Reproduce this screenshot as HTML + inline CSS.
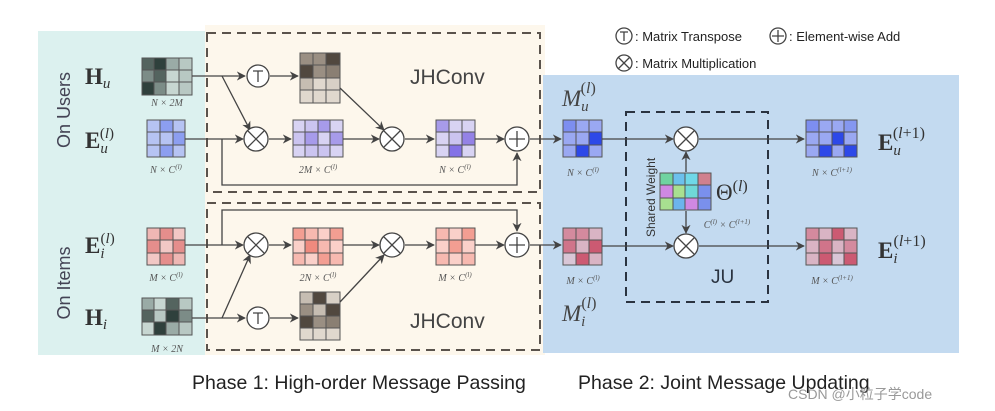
<!DOCTYPE html>
<html><head><meta charset="utf-8"><style>
body{margin:0;background:#fff;}
svg{display:block;font-family:"Liberation Sans",sans-serif;}
.m{font-family:"Liberation Serif",serif;}
</style></head><body>
<svg width="995" height="411" viewBox="0 0 995 411" xmlns="http://www.w3.org/2000/svg">
<defs>
<marker id="a" viewBox="0 0 10 10" refX="9" refY="5" markerWidth="7" markerHeight="7" orient="auto"><path d="M0,0 L10,5 L0,10 L3,5z" fill="#444"/></marker>
</defs>
<rect x="38" y="31" width="168" height="324" fill="#dcf1ef"/>
<rect x="205" y="25" width="340" height="330" fill="#fdf7ec"/>
<rect x="543" y="75" width="416" height="278" fill="#c3daf0"/>
<rect x="207" y="33" width="333" height="159" fill="none" stroke="#5a534c" stroke-width="2" stroke-dasharray="9,6"/>
<rect x="207" y="203" width="333" height="147" fill="none" stroke="#5a534c" stroke-width="2" stroke-dasharray="9,6"/>
<rect x="626" y="112" width="142" height="190" fill="none" stroke="#2a3340" stroke-width="2" stroke-dasharray="9,6"/>

<text x="70" y="110" transform="rotate(-90 70 110)" text-anchor="middle" font-size="18" fill="#445">On Users</text>
<text x="70" y="283" transform="rotate(-90 70 283)" text-anchor="middle" font-size="18" fill="#445">On Items</text>
<text class="m" x="85" y="84" font-size="23" font-weight="bold" fill="#333">H<tspan font-size="15" font-style="italic" font-weight="normal" dy="4">u</tspan></text>
<text class="m" x="85" y="148" font-size="23" font-weight="bold" fill="#333">E<tspan font-size="15" font-style="italic" font-weight="normal" dy="5">u</tspan><tspan font-size="15" font-weight="normal" dx="-8" dy="-15">(<tspan font-style="italic">l</tspan>)</tspan></text>
<text class="m" x="85" y="253" font-size="23" font-weight="bold" fill="#333">E<tspan font-size="15" font-style="italic" font-weight="normal" dy="5">i</tspan><tspan font-size="15" font-weight="normal" dx="-4" dy="-15">(<tspan font-style="italic">l</tspan>)</tspan></text>
<text class="m" x="85" y="325" font-size="23" font-weight="bold" fill="#333">H<tspan font-size="15" font-style="italic" font-weight="normal" dy="4">i</tspan></text>

<g stroke="#555" stroke-width="1">
<rect x="142" y="58" width="12" height="12" fill="#54645f"/><rect x="154" y="58" width="12" height="12" fill="#2f403c"/><rect x="166" y="58" width="13" height="12" fill="#9aaba6"/><rect x="179" y="58" width="13" height="12" fill="#b8c8c3"/>
<rect x="142" y="70" width="12" height="12" fill="#7c8c87"/><rect x="154" y="70" width="12" height="12" fill="#54645f"/><rect x="166" y="70" width="13" height="12" fill="#c7d6d1"/><rect x="179" y="70" width="13" height="12" fill="#b8c8c3"/>
<rect x="142" y="82" width="12" height="13" fill="#2f403c"/><rect x="154" y="82" width="12" height="13" fill="#7c8c87"/><rect x="166" y="82" width="13" height="13" fill="#c7d6d1"/><rect x="179" y="82" width="13" height="13" fill="#b8c8c3"/>
<rect x="142" y="298" width="12" height="12" fill="#9aaba6"/><rect x="154" y="298" width="12" height="12" fill="#c7d6d1"/><rect x="166" y="298" width="13" height="12" fill="#54645f"/><rect x="179" y="298" width="13" height="12" fill="#b8c8c3"/>
<rect x="142" y="310" width="12" height="12" fill="#54645f"/><rect x="154" y="310" width="12" height="12" fill="#b8c8c3"/><rect x="166" y="310" width="13" height="12" fill="#2f403c"/><rect x="179" y="310" width="13" height="12" fill="#7c8c87"/>
<rect x="142" y="322" width="12" height="13" fill="#c7d6d1"/><rect x="154" y="322" width="12" height="13" fill="#2f403c"/><rect x="166" y="322" width="13" height="13" fill="#9aaba6"/><rect x="179" y="322" width="13" height="13" fill="#b8c8c3"/>
<rect x="300" y="53" width="13" height="12" fill="#9a8f83"/><rect x="313" y="53" width="13" height="12" fill="#9a8f83"/><rect x="326" y="53" width="14" height="12" fill="#51483f"/>
<rect x="300" y="65" width="13" height="13" fill="#51483f"/><rect x="313" y="65" width="13" height="13" fill="#9a8f83"/><rect x="326" y="65" width="14" height="13" fill="#8a7f73"/>
<rect x="300" y="78" width="13" height="12" fill="#c6bdb2"/><rect x="313" y="78" width="13" height="12" fill="#e0d8ce"/><rect x="326" y="78" width="14" height="12" fill="#d8d0c6"/>
<rect x="300" y="90" width="13" height="13" fill="#e0d8ce"/><rect x="313" y="90" width="13" height="13" fill="#e0d8ce"/><rect x="326" y="90" width="14" height="13" fill="#e0d8ce"/>
<rect x="300" y="292" width="13" height="12" fill="#c6bdb2"/><rect x="313" y="292" width="13" height="12" fill="#51483f"/><rect x="326" y="292" width="14" height="12" fill="#d8d0c6"/>
<rect x="300" y="304" width="13" height="12" fill="#9a8f83"/><rect x="313" y="304" width="13" height="12" fill="#c6bdb2"/><rect x="326" y="304" width="14" height="12" fill="#51483f"/>
<rect x="300" y="316" width="13" height="12" fill="#51483f"/><rect x="313" y="316" width="13" height="12" fill="#9a8f83"/><rect x="326" y="316" width="14" height="12" fill="#8a7f73"/>
<rect x="300" y="328" width="13" height="12" fill="#e0d8ce"/><rect x="313" y="328" width="13" height="12" fill="#e0d8ce"/><rect x="326" y="328" width="14" height="12" fill="#e0d8ce"/>
</g>

<g stroke="#555" stroke-width="1">
<rect x="147" y="120" width="13" height="12" fill="#b6c3f3"/><rect x="160" y="120" width="13" height="12" fill="#8c9ef0"/><rect x="173" y="120" width="12" height="12" fill="#b6c3f3"/>
<rect x="147" y="132" width="13" height="13" fill="#b6c3f3"/><rect x="160" y="132" width="13" height="13" fill="#b6c3f3"/><rect x="173" y="132" width="12" height="13" fill="#8c9ef0"/>
<rect x="147" y="145" width="13" height="12" fill="#b6c3f3"/><rect x="160" y="145" width="13" height="12" fill="#8c9ef0"/><rect x="173" y="145" width="12" height="12" fill="#b6c3f3"/>
<rect x="293" y="120" width="12" height="12" fill="#d8d3f3"/><rect x="305" y="120" width="13" height="12" fill="#cbc4f0"/><rect x="318" y="120" width="12" height="12" fill="#a79bea"/><rect x="330" y="120" width="13" height="12" fill="#d8d3f3"/>
<rect x="293" y="132" width="12" height="13" fill="#cbc4f0"/><rect x="305" y="132" width="13" height="13" fill="#a79bea"/><rect x="318" y="132" width="12" height="13" fill="#d8d3f3"/><rect x="330" y="132" width="13" height="13" fill="#a79bea"/>
<rect x="293" y="145" width="12" height="12" fill="#d8d3f3"/><rect x="305" y="145" width="13" height="12" fill="#cbc4f0"/><rect x="318" y="145" width="12" height="12" fill="#cbc4f0"/><rect x="330" y="145" width="13" height="12" fill="#d8d3f3"/>
<rect x="436" y="120" width="13" height="12" fill="#a79bea"/><rect x="449" y="120" width="13" height="12" fill="#d8d3f3"/><rect x="462" y="120" width="13" height="12" fill="#d8d3f3"/>
<rect x="436" y="132" width="13" height="13" fill="#d8d3f3"/><rect x="449" y="132" width="13" height="13" fill="#cbc4f0"/><rect x="462" y="132" width="13" height="13" fill="#9482e6"/>
<rect x="436" y="145" width="13" height="12" fill="#d8d3f3"/><rect x="449" y="145" width="13" height="12" fill="#8472e6"/><rect x="462" y="145" width="13" height="12" fill="#d8d3f3"/>
<rect x="147" y="228" width="13" height="12" fill="#efb7b4"/><rect x="160" y="228" width="13" height="12" fill="#e58e8c"/><rect x="173" y="228" width="12" height="12" fill="#f2c8c5"/>
<rect x="147" y="240" width="13" height="13" fill="#e58e8c"/><rect x="160" y="240" width="13" height="13" fill="#f2c8c5"/><rect x="173" y="240" width="12" height="13" fill="#e58e8c"/>
<rect x="147" y="253" width="13" height="12" fill="#f2c8c5"/><rect x="160" y="253" width="13" height="12" fill="#e58e8c"/><rect x="173" y="253" width="12" height="12" fill="#efb7b4"/>
<rect x="293" y="228" width="12" height="12" fill="#f39e92"/><rect x="305" y="228" width="13" height="12" fill="#f7b9b0"/><rect x="318" y="228" width="12" height="12" fill="#fad0c9"/><rect x="330" y="228" width="13" height="12" fill="#f39e92"/>
<rect x="293" y="240" width="12" height="13" fill="#fad0c9"/><rect x="305" y="240" width="13" height="13" fill="#f08a7e"/><rect x="318" y="240" width="12" height="13" fill="#f7b9b0"/><rect x="330" y="240" width="13" height="13" fill="#fad0c9"/>
<rect x="293" y="253" width="12" height="12" fill="#f7b9b0"/><rect x="305" y="253" width="13" height="12" fill="#fad0c9"/><rect x="318" y="253" width="12" height="12" fill="#f39e92"/><rect x="330" y="253" width="13" height="12" fill="#f7b9b0"/>
<rect x="436" y="228" width="13" height="12" fill="#f7b9b0"/><rect x="449" y="228" width="13" height="12" fill="#fad0c9"/><rect x="462" y="228" width="13" height="12" fill="#f39e92"/>
<rect x="436" y="240" width="13" height="13" fill="#fad0c9"/><rect x="449" y="240" width="13" height="13" fill="#f39e92"/><rect x="462" y="240" width="13" height="13" fill="#fad0c9"/>
<rect x="436" y="253" width="13" height="12" fill="#f7b9b0"/><rect x="449" y="253" width="13" height="12" fill="#fad0c9"/><rect x="462" y="253" width="13" height="12" fill="#f7b9b0"/>
<rect x="563" y="120" width="13" height="12" fill="#7d8ef0"/><rect x="576" y="120" width="13" height="12" fill="#9aa8f2"/><rect x="589" y="120" width="13" height="12" fill="#9aa8f2"/>
<rect x="563" y="132" width="13" height="13" fill="#9aa8f2"/><rect x="576" y="132" width="13" height="13" fill="#9aa8f2"/><rect x="589" y="132" width="13" height="13" fill="#2d48e8"/>
<rect x="563" y="145" width="13" height="12" fill="#9aa8f2"/><rect x="576" y="145" width="13" height="12" fill="#2d48e8"/><rect x="589" y="145" width="13" height="12" fill="#9aa8f2"/>
<rect x="563" y="228" width="13" height="12" fill="#d48a9e"/><rect x="576" y="228" width="13" height="12" fill="#d48a9e"/><rect x="589" y="228" width="13" height="12" fill="#d9b4c4"/>
<rect x="563" y="240" width="13" height="13" fill="#d0748a"/><rect x="576" y="240" width="13" height="13" fill="#d9b4c4"/><rect x="589" y="240" width="13" height="13" fill="#cc5a72"/>
<rect x="563" y="253" width="13" height="12" fill="#d9c6d6"/><rect x="576" y="253" width="13" height="12" fill="#cc5a72"/><rect x="589" y="253" width="13" height="12" fill="#d9b4c4"/>
<rect x="806" y="120" width="13" height="12" fill="#7d8ef0"/><rect x="819" y="120" width="13" height="12" fill="#9aa8f2"/><rect x="832" y="120" width="12" height="12" fill="#9aa8f2"/><rect x="844" y="120" width="13" height="12" fill="#8597f0"/>
<rect x="806" y="132" width="13" height="13" fill="#9aa8f2"/><rect x="819" y="132" width="13" height="13" fill="#9aa8f2"/><rect x="832" y="132" width="12" height="13" fill="#2d48e8"/><rect x="844" y="132" width="13" height="13" fill="#9aa8f2"/>
<rect x="806" y="145" width="13" height="12" fill="#9aa8f2"/><rect x="819" y="145" width="13" height="12" fill="#2d48e8"/><rect x="832" y="145" width="12" height="12" fill="#9aa8f2"/><rect x="844" y="145" width="13" height="12" fill="#2d48e8"/>
<rect x="806" y="228" width="13" height="12" fill="#d48a9e"/><rect x="819" y="228" width="13" height="12" fill="#d9b4c4"/><rect x="832" y="228" width="12" height="12" fill="#cc5a72"/><rect x="844" y="228" width="13" height="12" fill="#d9b4c4"/>
<rect x="806" y="240" width="13" height="13" fill="#d9b4c4"/><rect x="819" y="240" width="13" height="13" fill="#d0748a"/><rect x="832" y="240" width="12" height="13" fill="#d9b4c4"/><rect x="844" y="240" width="13" height="13" fill="#d48a9e"/>
<rect x="806" y="253" width="13" height="12" fill="#d9b4c4"/><rect x="819" y="253" width="13" height="12" fill="#cc5a72"/><rect x="832" y="253" width="12" height="12" fill="#d9c6d6"/><rect x="844" y="253" width="13" height="12" fill="#cc5a72"/>
<rect x="660" y="173" width="13" height="12" fill="#6fd3a0"/><rect x="673" y="173" width="12" height="12" fill="#6cc0ec"/><rect x="685" y="173" width="13" height="12" fill="#6fd8e8"/><rect x="698" y="173" width="13" height="12" fill="#d0808e"/>
<rect x="660" y="185" width="13" height="13" fill="#cf88e2"/><rect x="673" y="185" width="12" height="13" fill="#a8e090"/><rect x="685" y="185" width="13" height="13" fill="#6fd8d8"/><rect x="698" y="185" width="13" height="13" fill="#7a90ec"/>
<rect x="660" y="198" width="13" height="12" fill="#a8e090"/><rect x="673" y="198" width="12" height="12" fill="#6cb4ec"/><rect x="685" y="198" width="13" height="12" fill="#cf88e2"/><rect x="698" y="198" width="13" height="12" fill="#7a90ec"/>
</g>

<g stroke="#444" stroke-width="1.3" fill="none">
<path d="M192 76 H245" marker-end="url(#a)"/>
<path d="M222 76 L250 130" marker-end="url(#a)"/>
<path d="M270 76 H298" marker-end="url(#a)"/>
<path d="M185 139 H243" marker-end="url(#a)"/>
<path d="M269 139 H291" marker-end="url(#a)"/>
<path d="M343 139 H379" marker-end="url(#a)"/>
<path d="M340 88 L384 130" marker-end="url(#a)"/>
<path d="M405 139 H434" marker-end="url(#a)"/>
<path d="M475 139 H504" marker-end="url(#a)"/>
<path d="M222 139 V185 H517 V153" marker-end="url(#a)"/>
<path d="M530 139 H561" marker-end="url(#a)"/>
<path d="M185 245 H243" marker-end="url(#a)"/>
<path d="M269 245 H291" marker-end="url(#a)"/>
<path d="M343 245 H379" marker-end="url(#a)"/>
<path d="M405 245 H434" marker-end="url(#a)"/>
<path d="M475 245 H504" marker-end="url(#a)"/>
<path d="M222 245 V210 H517 V231" marker-end="url(#a)"/>
<path d="M530 245 H561" marker-end="url(#a)"/>
<path d="M192 318 H245" marker-end="url(#a)"/>
<path d="M222 318 L250 255" marker-end="url(#a)"/>
<path d="M270 318 H298" marker-end="url(#a)"/>
<path d="M340 302 L384 255" marker-end="url(#a)"/>
<path d="M602 139 H673" marker-end="url(#a)"/>
<path d="M699 139 H804" marker-end="url(#a)"/>
<path d="M602 246 H673" marker-end="url(#a)"/>
<path d="M699 246 H804" marker-end="url(#a)"/>
<path d="M686 172 V152" marker-end="url(#a)"/>
<path d="M686 211 V233" marker-end="url(#a)"/>
</g>
<g stroke="#444" stroke-width="1.3" fill="#fff">
<circle cx="258" cy="76" r="11"/><circle cx="258" cy="318" r="11"/>
<circle cx="256" cy="139" r="12"/><circle cx="392" cy="139" r="12"/><circle cx="517" cy="139" r="12"/>
<circle cx="256" cy="245" r="12"/><circle cx="392" cy="245" r="12"/><circle cx="517" cy="245" r="12"/>
<circle cx="686" cy="139" r="12"/><circle cx="686" cy="246" r="12"/>
<circle cx="624" cy="36" r="8"/><circle cx="778" cy="36" r="8"/><circle cx="624" cy="63" r="8"/>
</g>
<g stroke="#444" stroke-width="1.3">
<path d="M248 131 l16 16 M264 131 l-16 16 M384 131 l16 16 M400 131 l-16 16 M248 237 l16 16 M264 237 l-16 16 M384 237 l16 16 M400 237 l-16 16 M678 131 l16 16 M694 131 l-16 16 M678 238 l16 16 M694 238 l-16 16 M618 57 l12 12 M630 57 l-12 12"/>
<path d="M517 131 v16 M509 139 h16 M517 237 v16 M509 245 h16 M778 30 v12 M772 36 h12"/>
<path d="M253 71 h10 M258 71 v11 M253 313 h10 M258 313 v11 M620 32 h8 M624 32 v9"/>
</g>

<g class="m" font-style="italic" font-size="10" fill="#555" text-anchor="middle">
<text x="167" y="106">N × 2M</text>
<text x="166" y="173">N × C<tspan font-size="7" dy="-4">(l)</tspan></text>
<text x="318" y="173">2M × C<tspan font-size="7" dy="-4">(l)</tspan></text>
<text x="455" y="173">N × C<tspan font-size="7" dy="-4">(l)</tspan></text>
<text x="166" y="281">M × C<tspan font-size="7" dy="-4">(l)</tspan></text>
<text x="318" y="281">2N × C<tspan font-size="7" dy="-4">(l)</tspan></text>
<text x="455" y="281">M × C<tspan font-size="7" dy="-4">(l)</tspan></text>
<text x="167" y="352">M × 2N</text>
<text x="583" y="176">N × C<tspan font-size="7" dy="-4">(l)</tspan></text>
<text x="583" y="284">M × C<tspan font-size="7" dy="-4">(l)</tspan></text>
<text x="832" y="176">N × C<tspan font-size="7" dy="-4">(l+1)</tspan></text>
<text x="832" y="284">M × C<tspan font-size="7" dy="-4">(l+1)</tspan></text>
<text x="727" y="228">C<tspan font-size="7" dy="-4">(l)</tspan><tspan dy="4"> × C</tspan><tspan font-size="7" dy="-4">(l+1)</tspan></text>
</g>
<text x="410" y="84" font-size="21" fill="#444">JHConv</text>
<text x="410" y="328" font-size="21" fill="#444">JHConv</text>
<text x="711" y="283" font-size="19" fill="#2a3340">JU</text>
<text x="655" y="237" transform="rotate(-90 655 237)" font-size="12" fill="#333">Shared Weight</text>
<text class="m" x="562" y="106" font-size="23" font-style="italic" fill="#444">M<tspan font-size="15" dy="5">u</tspan><tspan font-size="16" font-style="normal" dx="-8" dy="-18">(<tspan font-style="italic">l</tspan>)</tspan></text>
<text class="m" x="562" y="321" font-size="23" font-style="italic" fill="#444">M<tspan font-size="15" dy="5">i</tspan><tspan font-size="16" font-style="normal" dx="-4" dy="-18">(<tspan font-style="italic">l</tspan>)</tspan></text>
<text class="m" x="716" y="200" font-size="23" fill="#333">Θ<tspan font-size="16" dy="-9">(<tspan font-style="italic">l</tspan>)</tspan></text>
<text class="m" x="878" y="150" font-size="23" font-weight="bold" fill="#333">E<tspan font-size="15" font-style="italic" font-weight="normal" dy="5">u</tspan><tspan font-size="16" font-weight="normal" dx="-8" dy="-17">(<tspan font-style="italic">l</tspan>+1)</tspan></text>
<text class="m" x="878" y="258" font-size="23" font-weight="bold" fill="#333">E<tspan font-size="15" font-style="italic" font-weight="normal" dy="5">i</tspan><tspan font-size="16" font-weight="normal" dx="-4" dy="-17">(<tspan font-style="italic">l</tspan>+1)</tspan></text>

<text x="635" y="41" font-size="13" fill="#222">: Matrix Transpose</text>
<text x="789" y="41" font-size="13" fill="#222">: Element-wise Add</text>
<text x="635" y="68" font-size="13" fill="#222">: Matrix Multiplication</text>
<text x="192" y="389" font-size="19.5" fill="#222">Phase 1: High-order Message Passing</text>
<text x="578" y="389" font-size="19.5" fill="#222">Phase 2: Joint Message Updating</text>
<text x="788" y="399" font-size="14" fill="#999">CSDN @小粒子学code</text>
</svg>
</body></html>
